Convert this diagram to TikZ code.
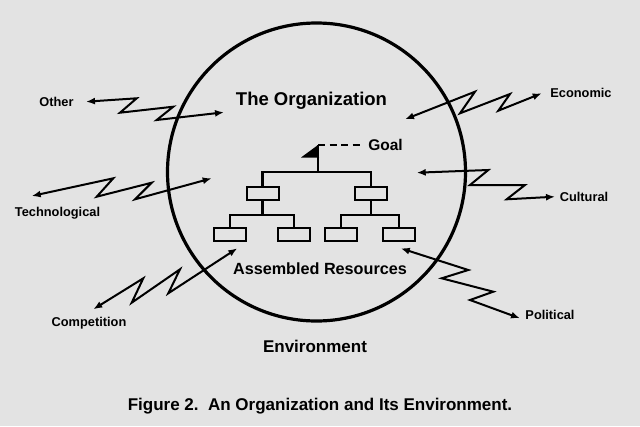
\documentclass[tikz,border=0pt]{standalone}
\usepackage{fontspec}
\setmainfont{Liberation Sans}
\usetikzlibrary{arrows.meta}
\begin{document}
\begin{tikzpicture}[x=1pt,y=-1pt,
  zz/.style={line width=2pt, {Latex[length=9pt,width=7pt]}-{Latex[length=9pt,width=7pt]}, line join=miter},
  lbl/.style={font=\fontsize{12.8}{14}\selectfont\bfseries, inner sep=0pt},
  big/.style={font=\fontsize{#1}{#1}\selectfont\bfseries, inner sep=0pt},
  box/.style={draw, line width=2pt, minimum width=32pt, minimum height=13pt, inner sep=0pt},
  org/.style={line width=2.2pt}]
\fill[gray!22] (0,0) rectangle (640,426);
\useasboundingbox (0,0) rectangle (640,426);

% circle
\node[circle, draw, line width=3.2pt, minimum size=298pt, inner sep=0pt] (org) at (316.5,172) {};

% titles
\node[big=18.5] (title) at (311.5,101) {The Organization};
\node[big=16.2] (assembled) at (320,269) {Assembled Resources};
\node[big=17] (env) at (315,346) {Environment};
\node[big=17] (caption) at (320,406) {Figure 2.\ \ An Organization and Its Environment.};
\node[big=15.5] (goal) at (385.5,145) {Goal};

% org chart
\node[box] (b1) at (262.5,193.5) {};
\node[box] (b2) at (371,193.5) {};
\node[box] (c1) at (230,234) {};
\node[box] (c2) at (294,234) {};
\node[box] (c3) at (341,234) {};
\node[box] (c4) at (399,234) {};
\coordinate (poletop) at (318,145);
\coordinate (pole) at (318,172);
\coordinate (j1) at (262.5,215);
\coordinate (j2) at (371,215);
\draw[org] (poletop) -- (pole);
\draw[org] (b1.north) |- (pole) -| (b2.north);
\draw[org] (b1.south) -- (j1);
\draw[org] (b2.south) -- (j2);
\draw[org] (c1.north) |- (j1) -| (c2.north);
\draw[org] (c3.north) |- (j2) -| (c4.north);
\fill (poletop) -- (319,157.5) -- (301,157.5) -- cycle;
\draw[line width=1.8pt, dash pattern=on 7pt off 4.5pt] (poletop) -- ([xshift=-5pt]goal.west);

% labels
\node[lbl] (other) at (56.5,101.5) {Other};
\node[lbl] (tech) at (57.5,213) {Technological};
\node[lbl] (econ) at (581,93) {Economic};
\node[lbl] (cult) at (584,196.5) {Cultural};
\node[lbl] (comp) at (89,323) {Competition};
\node[lbl] (pol) at (550,315) {Political};

% arrow end points
\coordinate (o1) at (86,101.7);   \coordinate (o2) at (224,112.3);
\coordinate (t1) at (31.7,196);   \coordinate (t2) at (211.7,178.3);
\coordinate (e1) at (405,119.3);  \coordinate (e2) at (541.7,93.3);
\coordinate (u1) at (416.7,172.7);\coordinate (u2) at (555,196.7);
\coordinate (m1) at (93.3,309.3); \coordinate (m2) at (237.3,248.3);
\coordinate (p1) at (400.7,248.3);\coordinate (p2) at (520,318.3);

% zigzag arrows
\draw[zz] (o1) -- (136.7,98.3) -- (120,112.7) -- (173.3,106.7) -- (156.7,120) -- (o2);
\draw[zz] (t1) -- (113.3,178.3) -- (96.7,196.7) -- (151.7,182.7) -- (135,199.3) -- (t2);
\draw[zz] (e1) -- (475,91.7) -- (460,113.3) -- (510,94) -- (498.3,110.7) -- (e2);
\draw[zz] (u1) -- (488.3,170) -- (470,185) -- (525,185) -- (506.7,199.3) -- (u2);
\draw[zz] (m1) -- (143.3,278.3) -- (131.7,302.7) -- (180,269.3) -- (168.3,293.3) -- (m2);
\draw[zz] (p1) -- (468.3,270) -- (441.7,278.3) -- (493.3,291.7) -- (470,300) -- (p2);
\end{tikzpicture}
\end{document}
